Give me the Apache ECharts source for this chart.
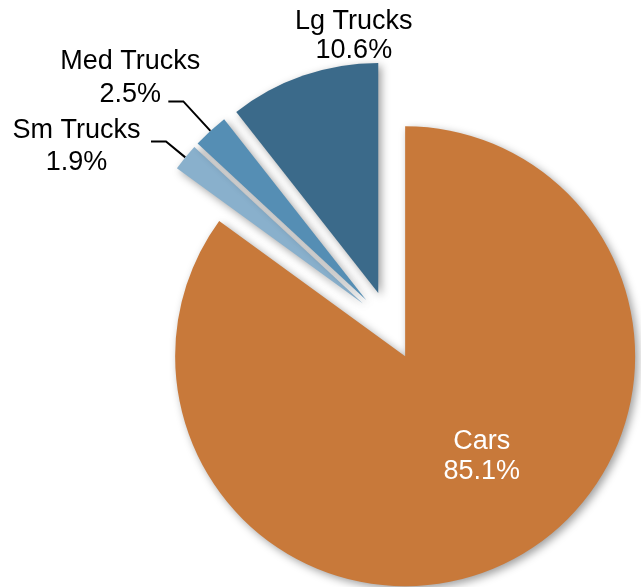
<!DOCTYPE html>
<html>
<head>
<meta charset="utf-8">
<script src="https://cdn.jsdelivr.net/npm/echarts@6/dist/echarts.min.js"></script>
<style>
  html, body { margin: 0; padding: 0; background: #ffffff; }
  #chart { width: 641px; height: 587px; }
</style>
</head>
<body>
<div id="chart"></div>
<script>
// Vehicle mix shares (percent), drawn clockwise from 12 o'clock
const categories = ['Cars', 'Sm Trucks', 'Med Trucks', 'Lg Trucks'];
const shares = [85.1, 1.9, 2.5, 10.6];
const sliceColors = ['#C8793A', '#89B0CC', '#558EB4', '#3B6A8A'];

const FONT = '"Liberation Sans", Arial, sans-serif';
const FONT_SIZE = 27;

// Label styling for each slice
const labelSetup = {
  'Cars': {
    label: { position: 'inside', color: '#ffffff', lineHeight: 30, formatter: '{b}\n{c}%' },
    labelLine: { show: false }
  },
  'Sm Trucks': {
    label: {
      position: 'outside', formatter: '{t|{b}}\n{t|{c}%}', padding: [10, 0, 0, 0],
      rich: { t: { width: 139, align: 'center', fontSize: FONT_SIZE, lineHeight: 32, color: '#000', fontFamily: FONT } }
    },
    labelLine: { show: true, length: 25, length2: 15 }
  },
  'Med Trucks': {
    label: {
      position: 'outside', formatter: '{t|{b}}\n{t|{c}%}', padding: [0, 0, 47, 0],
      rich: { t: { width: 66, align: 'center', fontSize: FONT_SIZE, lineHeight: 33, color: '#000', fontFamily: FONT } }
    },
    labelLine: { show: true, length: 40, length2: 15 }
  },
  'Lg Trucks': {
    label: {
      position: 'outside', formatter: '{t|{b}}\n{t|{c}%}',
      rich: { t: { width: 120, align: 'center', fontSize: FONT_SIZE, lineHeight: 29, color: '#000', fontFamily: FONT } }
    },
    labelLine: { show: false, length: 10, length2: 0 }
  }
};

const pieData = categories.map((name, i) => Object.assign({
  name: name,
  value: shares[i],
  selected: true,
  itemStyle: { color: sliceColors[i] }
}, labelSetup[name]));

// Nudges applied to the automatically placed labels
const labelNudge = {
  0: { dx: 23, dy: -5 },
  3: { dx: 119, dy: -30 }
};

const chart = echarts.init(document.getElementById('chart'), null, { renderer: 'canvas' });

chart.setOption({
  animation: false,
  backgroundColor: '#ffffff',
  series: [{
    type: 'pie',
    center: [389.5, 325.5],
    radius: [0, 230],
    startAngle: 90,
    clockwise: true,
    selectedMode: 'multiple',
    selectedOffset: 34.5,
    avoidLabelOverlap: false,
    silent: true,
    emphasis: { disabled: true },
    itemStyle: {
      shadowBlur: 9,
      shadowColor: 'rgba(0, 0, 0, 0.38)',
      shadowOffsetX: 3,
      shadowOffsetY: 3
    },
    label: {
      fontSize: FONT_SIZE,
      fontFamily: FONT,
      color: '#000'
    },
    labelLine: {
      lineStyle: { color: '#000', width: 2 },
      smooth: false
    },
    labelLayout: function (p) {
      return labelNudge[p.dataIndex];
    },
    data: pieData
  }]
});
</script>
</body>
</html>
